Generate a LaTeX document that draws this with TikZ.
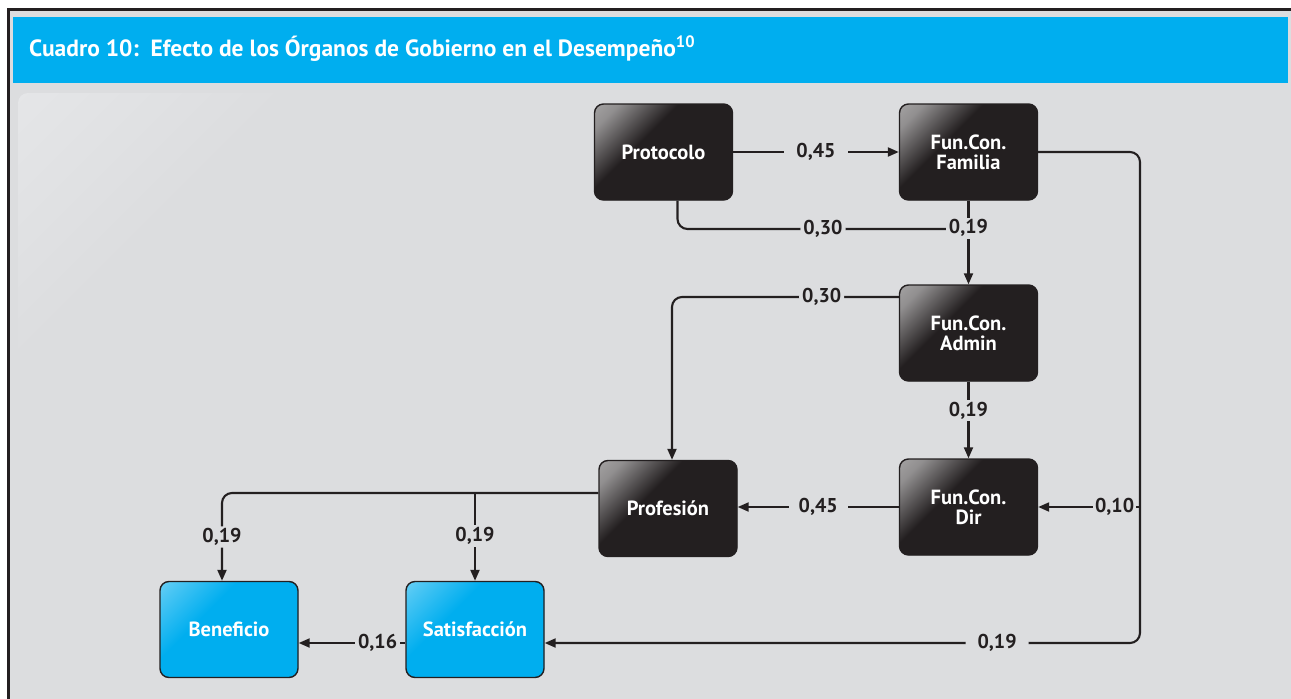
\documentclass[tikz,border=0pt]{standalone}
\usepackage{fontspec}
\setmainfont{PT Sans}
\usetikzlibrary{arrows.meta,calc}
\definecolor{bg}{HTML}{DCDDDF}
\definecolor{hdr}{HTML}{00AEEF}
\definecolor{boxdark}{HTML}{231F20}
\definecolor{ln}{HTML}{231F20}
\definecolor{panelhi}{HTML}{E9EAEC}
\pgfdeclareverticalshading{darkgloss}{100bp}{color(0bp)=(boxdark); color(60bp)=(boxdark); color(78bp)=(boxdark!50!white); color(100bp)=(boxdark!25!white)}
\pgfdeclareverticalshading{bluegloss}{100bp}{color(0bp)=(hdr); color(62bp)=(hdr); color(80bp)=(hdr!70!white); color(100bp)=(hdr!30!white)}
\pgfdeclareverticalshading{panelgloss}{100bp}{color(0bp)=(bg); color(55bp)=(bg); color(100bp)=(panelhi)}
\tikzset{
  basebox/.style={rounded corners=9pt, draw=ln, line width=1.4pt, minimum width=138pt, minimum height=96pt,
    text=white, align=center, font=\bfseries\fontsize{20.5}{20}\selectfont, inner sep=2pt},
  dbox/.style={basebox, fill=boxdark, path picture={\shade[shading=darkgloss, shading angle=45]
      (path picture bounding box.south west) rectangle (path picture bounding box.north east);}},
  bbox/.style={basebox, fill=hdr, path picture={\shade[shading=bluegloss, shading angle=45]
      (path picture bounding box.south west) rectangle (path picture bounding box.north east);}},
  conn/.style={draw=ln, line width=2.1pt, -{Triangle[length=11pt,width=9pt]}},
  plain/.style={draw=ln, line width=2.1pt},
  lab/.style={fill=bg, text=ln, inner xsep=3pt, inner ysep=2pt, font=\bfseries\fontsize{20}{22}\selectfont},
}
\begin{document}
\begin{tikzpicture}[x=1pt,y=-1pt]
\useasboundingbox (0,0) rectangle (1291,699);
\fill[white] (0,0) rectangle (1291,699);
\fill[bg] (8,9) rectangle (1291,699);
\draw[ln, line width=2.5pt] (8.5,699) -- (8.5,9.5) -- (1291,9.5);
\shade[rounded corners=10pt, shading=panelgloss, shading angle=45] (18,93) rectangle (320,420);
\fill[hdr] (13,17) rectangle (1288,83);
\node[anchor=west, text=white, font=\bfseries\fontsize{23.5}{25}\selectfont, inner sep=0pt] (title) at (29,49)
  {Cuadro 10:\ \ Efecto de los Órganos de Gobierno en el Desempeño\textsuperscript{10}};

\node[dbox] (prot) at (663.5,152) {Protocolo};
\node[dbox] (fam) at (968.5,152) {Fun.Con.\\Familia};
\node[dbox] (adm) at (968.5,333) {Fun.Con.\\Admin};
\node[dbox] (dir) at (968.5,507) {Fun.Con.\\Dir};
\node[dbox] (prof) at (668,508.5) {Profesión};
\node[bbox] (ben) at (229,629.5) {Beneficio};
\node[bbox] (sat) at (475,629.5) {Satisfacción};

\coordinate (j1) at (968.5,229);
\coordinate (rc1) at (1140,152);
\coordinate (rc2) at (1140,643);
\coordinate (rc3) at (1140,507);
\coordinate (br) at (475,493);

\draw[conn] (prot) -- node[lab, inner xsep=12pt]{0,45} (fam);
\draw[plain, rounded corners=10pt] ([xshift=14pt]prot.south) |- node[lab, pos=0.75]{0,30} (j1);
\draw[conn] (fam) -- node[lab, pos=0.33]{0,19} (adm);
\draw[conn, rounded corners=10pt] ([yshift=36pt]adm.west) -| node[lab, pos=0.17]{0,30} ([xshift=4pt]prof.north);
\draw[conn] (adm) -- node[lab, pos=0.38]{0,19} (dir);
\draw[conn] (dir.west) -- node[lab, inner xsep=10pt]{0,45} (dir.west -| prof.east);
\draw[conn, rounded corners=10pt] (fam.east) -- (rc1) -- (rc2) -- node[lab, inner xsep=12pt, pos=0.24]{0,19} ([yshift=-13.5pt]sat.east);
\draw[conn] (rc3) -- node[lab, inner xsep=2pt, pos=0.25]{0,10} (dir.east);
\draw[conn, rounded corners=10pt] ([yshift=15.5pt]prof.west) -| node[lab, pos=0.75]{0,19} ([xshift=-7pt]ben.north);
\draw[conn] (br) -- node[lab, pos=0.49]{0,19} (sat.north);
\draw[conn] ([yshift=-13.5pt]sat.west) -- node[lab, pos=0.26]{0,16} ([yshift=-13.5pt]ben.east);
\end{tikzpicture}
\end{document}
